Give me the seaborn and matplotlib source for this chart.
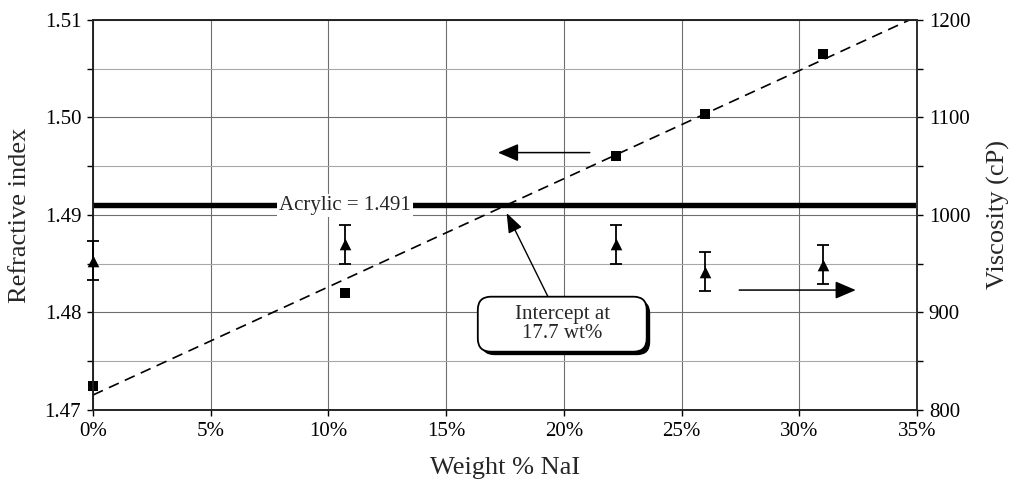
import numpy as np
import pandas as pd
import matplotlib
matplotlib.use("Agg")
import matplotlib.pyplot as plt
import matplotlib.patheffects as pe
from matplotlib.patches import FancyBboxPatch
from matplotlib.ticker import MultipleLocator, FuncFormatter
import seaborn as sns

# refractive index measurements (left axis)
ri_wt = [0.0, 10.7, 22.2, 26.0, 31.0]
ri_vals = [1.4725, 1.4820, 1.4960, 1.5004, 1.5065]

# viscosity measurements (right axis)
visc_wt = [0.0, 10.7, 22.2, 26.0, 31.0]
visc_vals = [953, 970, 970, 942, 949]
visc_err = [20, 20, 20, 20, 20]

acrylic_ri = 1.491
x_ticks = [0, 5, 10, 15, 20, 25, 30, 35]

ri_df = pd.DataFrame({"wt": ri_wt, "ri": ri_vals})
visc_df = pd.DataFrame({"wt": visc_wt, "visc": visc_vals, "err": visc_err})

sns.set_style("ticks")
plt.rcParams["font.family"] = ["Liberation Serif", "DejaVu Serif"]
plt.rcParams["axes.linewidth"] = 1.1

fig = plt.figure(figsize=(10.12, 4.82), dpi=100)
ax = fig.add_axes([0.0919, 0.1494, 0.8142, 0.8091])

ax.set_xlim(0, 35)
ax.set_ylim(1.47, 1.51)

# fitted refractive index line + squares
sns.regplot(data=ri_df, x="wt", y="ri", ax=ax, ci=None, truncate=False,
            marker="s",
            scatter_kws=dict(s=44, color="black", alpha=1, zorder=5, clip_on=False, linewidths=0),
            line_kws=dict(ls=(0, (6.5, 4)), lw=1.2, color="black", zorder=4))

ax.axhline(acrylic_ri, color="black", lw=3.9, zorder=3)
ax.text(10.7, acrylic_ri, "Acrylic = 1.491", ha="center", va="center", fontsize=15,
        zorder=6, bbox=dict(facecolor="white", edgecolor="none", pad=1.5))

ax.xaxis.set_major_locator(plt.FixedLocator(x_ticks))
ax.xaxis.set_major_formatter(FuncFormatter(lambda v, p: f"{v:.0f}%"))
ax.yaxis.set_major_locator(MultipleLocator(0.01))
ax.yaxis.set_minor_locator(MultipleLocator(0.005))
ax.yaxis.set_major_formatter(FuncFormatter(lambda v, p: f"{v:.2f}"))
ax.grid(which="major", axis="both", color="#6e6e6e", lw=0.8, zorder=0)
ax.grid(which="minor", axis="y", color="#a8a8a8", lw=0.8, zorder=0)
ax.set_axisbelow(True)
ax.tick_params(which="both", direction="out", length=4.5, width=1, colors="black",
               labelsize=15, pad=4)
ax.set_xlabel("Weight % NaI", fontsize=19, labelpad=12)
ax.set_ylabel("Refractive index", fontsize=19, labelpad=10)
for s in ["left", "bottom", "top"]:
    ax.spines[s].set_color("black")

# viscosity on twin axis
ax2 = ax.twinx()
ax2.set_ylim(800, 1200)
ax2.errorbar(visc_df["wt"], visc_df["visc"], yerr=visc_df["err"], fmt="none",
             ecolor="black", elinewidth=1.3, capsize=4, capthick=1.3, clip_on=False, zorder=4)
sns.scatterplot(data=visc_df, x="wt", y="visc", ax=ax2, marker="^", s=70, color="black",
                linewidth=0, zorder=5, clip_on=False, legend=False)
ax2.yaxis.set_major_locator(MultipleLocator(100))
ax2.yaxis.set_minor_locator(MultipleLocator(50))
ax2.tick_params(which="both", direction="out", length=4.5, width=1, colors="black",
                labelsize=15, pad=4)
ax2.set_ylabel("Viscosity (cP)", fontsize=19, labelpad=12)
ax2.spines["right"].set_color("#333333")
ax2.spines["right"].set_linewidth(1.4)
ax2.set_xlim(0, 35)
ax2.set_xlabel("")

# direction arrows
ax2.annotate("", xy=(17.2, 1.4964), xytext=(21.1, 1.4964), xycoords=ax.transData,
             textcoords=ax.transData,
             arrowprops=dict(arrowstyle="-|>,head_length=0.7,head_width=0.3", mutation_scale=18,
                             lw=1.1, color="black", shrinkA=0, shrinkB=0))
ax2.annotate("", xy=(32.4, 1.4823), xytext=(27.45, 1.4823), xycoords=ax.transData,
             textcoords=ax.transData,
             arrowprops=dict(arrowstyle="-|>,head_length=0.7,head_width=0.3", mutation_scale=18,
                             lw=1.1, color="black", shrinkA=0, shrinkB=0))

# intercept callout
box = FancyBboxPatch((0.467, 0.1495), 0.205, 0.141, transform=ax.transAxes,
                     boxstyle="round,pad=0,rounding_size=0.016", mutation_aspect=824 / 390,
                     facecolor="white", edgecolor="black", lw=1.3, zorder=7)
box.set_path_effects([pe.SimplePatchShadow(offset=(2.5, -2.5), shadow_rgbFace="black", alpha=1),
                      pe.Normal()])
ax2.add_patch(box)
ax2.text(0.5695, 0.22, "Intercept at\n17.7 wt%", transform=ax.transAxes, ha="center",
         va="center", fontsize=15, linespacing=1.0, zorder=8)
ax2.annotate("", xy=(17.57, 1.4902), xytext=(19.33, 1.4816), xycoords=ax.transData,
             textcoords=ax.transData,
             arrowprops=dict(arrowstyle="-|>,head_length=0.8,head_width=0.3", mutation_scale=15,
                             lw=1.0, color="black", shrinkA=0, shrinkB=0))

fig.savefig("out.png", dpi=100)
